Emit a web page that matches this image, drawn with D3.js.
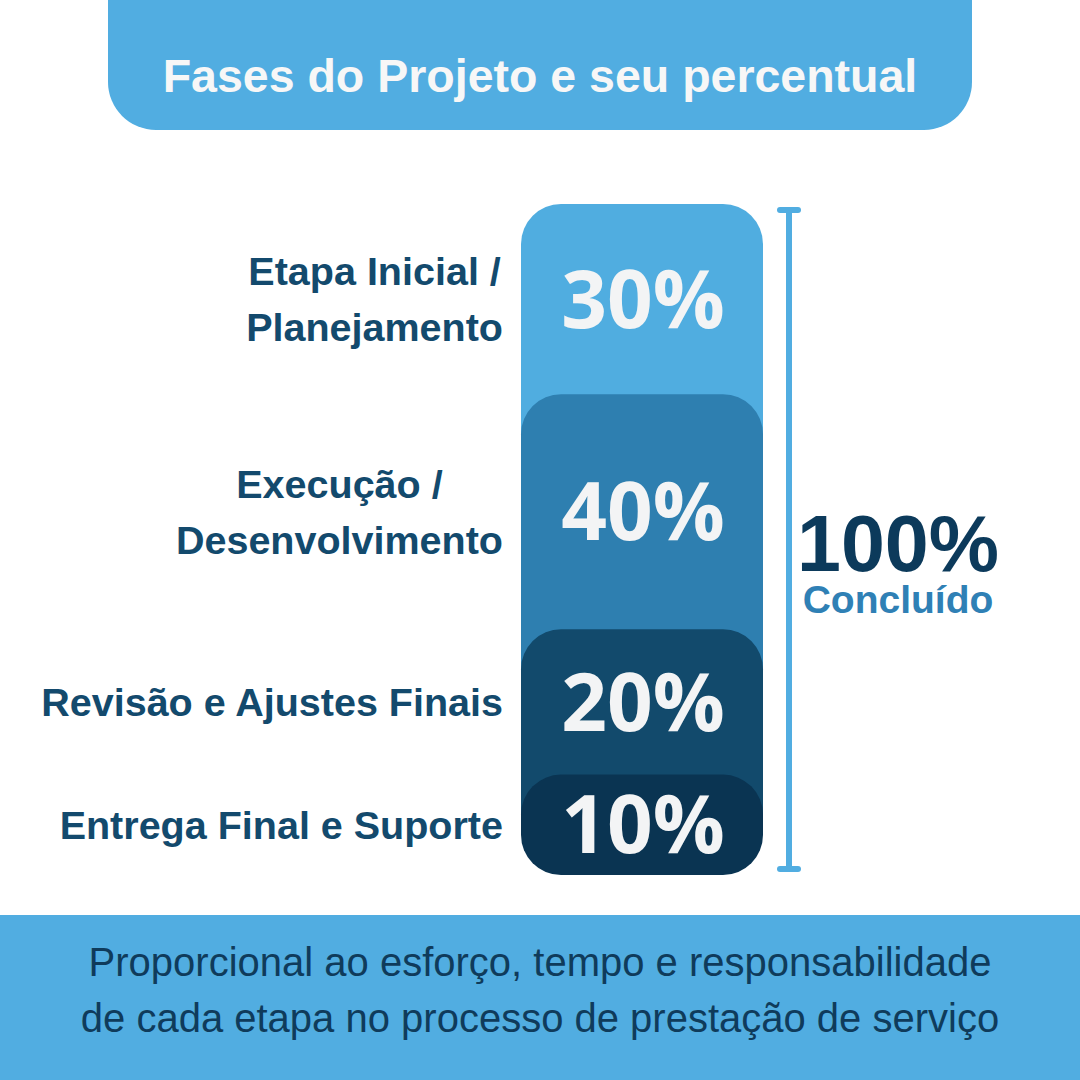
<!DOCTYPE html>
<html>
<head>
<meta charset="utf-8">
<script src="https://cdn.jsdelivr.net/npm/d3@7"></script>
<style>
  html, body { margin: 0; padding: 0; background: #ffffff; }
  svg { display: block; }
</style>
</head>
<body>
<script>
// ---------- DATA ----------
const phaseLabels = [
  ["Etapa Inicial /", "Planejamento"],
  ["Execução /", "Desenvolvimento"],
  ["Revisão e Ajustes Finais"],
  ["Entrega Final e Suporte"]
];
const phaseValues = [30, 40, 20, 10];
const phaseColors = ["#50ade0", "#2e7fb0", "#124a6c", "#0a3452"];
const titleText = "Fases do Projeto e seu percentual";
const totalText = "100%";
const totalCaption = "Concluído";
const footerLines = [
  "Proporcional ao esforço, tempo e responsabilidade",
  "de cada etapa no processo de prestação de serviço"
];

// ---------- LAYOUT ----------
const W = 1080, H = 1080;
const light = "#51ade1";
const svg = d3.select("body").append("svg").attr("width", W).attr("height", H);

// Title band
svg.append("rect").attr("x", 108).attr("y", -60).attr("width", 864).attr("height", 190)
  .attr("rx", 48).attr("fill", light);
svg.append("text").attr("x", 540).attr("y", 92).attr("text-anchor", "middle")
  .attr("font-family", "'Liberation Sans', Arial, sans-serif").attr("font-weight", 700)
  .attr("font-size", 46.5).attr("fill", "#f7f7f7").text(titleText);

// Footer band
svg.append("rect").attr("x", 0).attr("y", 915).attr("width", W).attr("height", H - 915).attr("fill", light);
svg.append("g").selectAll("text").data(footerLines).join("text")
  .attr("x", 540).attr("y", (d, i) => 976 + i * 56).attr("text-anchor", "middle")
  .attr("font-family", "'Liberation Sans', Arial, sans-serif").attr("font-size", 40)
  .attr("fill", "#0f3b5b").text(d => d);

// Stacked bar
const barX0 = 521, barX1 = 763, barTop = 204, barBottom = 875, r = 40;
const minSeg = 55.5; // base height per stage
const propH = (barBottom - barTop) - phaseValues.length * minSeg;
const y = d3.scaleLinear().domain([0, d3.sum(phaseValues)]).range([0, propH]);

let acc = barTop;
const segs = phaseValues.map((v, i) => {
  const h = minSeg + y(v);
  const s = { i, v, top: acc, bottom: acc + h };
  acc += h;
  return s;
});

function segPath(top, bottom, roundBottom) {
  const p = d3.path();
  p.moveTo(barX0, top + r);
  p.arcTo(barX0, top, barX0 + r, top, r);
  p.lineTo(barX1 - r, top);
  p.arcTo(barX1, top, barX1, top + r, r);
  if (roundBottom) {
    p.lineTo(barX1, bottom - r);
    p.arcTo(barX1, bottom, barX1 - r, bottom, r);
    p.lineTo(barX0 + r, bottom);
    p.arcTo(barX0, bottom, barX0, bottom - r, r);
  } else {
    p.lineTo(barX1, bottom);
    p.lineTo(barX0, bottom);
  }
  p.closePath();
  return p.toString();
}

const last = segs.length - 1;
svg.append("g").selectAll("path").data(segs).join("path")
  .attr("d", d => d.i === last ? segPath(d.top, d.bottom, true) : segPath(d.top, d.bottom + r + 2, false))
  .attr("fill", d => phaseColors[d.i]);

// Percent labels inside bar
const pctSize = 80, pctCap = pctSize * 0.714;
svg.append("g").selectAll("text").data(segs).join("text")
  .attr("x", (barX0 + barX1) / 2 + 1)
  .attr("y", d => (d.top + d.bottom) / 2 + pctCap / 2)
  .attr("text-anchor", "middle")
  .attr("font-family", "'Open Sans', sans-serif").attr("font-weight", 700)
  .attr("font-size", pctSize).attr("fill", "#f3f4f5")
  .text(d => d.v + "%");

// Left labels: block right-aligned, lines centered within block
const labSize = 39.5, labCap = labSize * 0.716, lineH = 56, labRight = 503;
segs.forEach(d => {
  const lines = phaseLabels[d.i];
  const g = svg.append("g");
  const cy = (d.top + d.bottom) / 2;
  const texts = g.selectAll("text").data(lines).join("text")
    .attr("font-family", "'Liberation Sans', Arial, sans-serif").attr("font-weight", 700)
    .attr("font-size", labSize).attr("fill", "#134a6d").attr("text-anchor", "middle")
    .attr("y", (t, j) => cy + labCap / 2 + (j - (lines.length - 1) / 2) * lineH)
    .text(t => t);
  let maxW = 0;
  texts.each(function () { maxW = Math.max(maxW, this.getComputedTextLength()); });
  texts.attr("x", labRight - maxW / 2);
});

// Bracket
const bx = 789, bTop = 210, bBot = 869;
svg.append("line").attr("x1", bx).attr("x2", bx).attr("y1", bTop).attr("y2", bBot)
  .attr("stroke", light).attr("stroke-width", 6);
[bTop, bBot].forEach(yy => {
  svg.append("line").attr("x1", bx - 9).attr("x2", bx + 9).attr("y1", yy).attr("y2", yy)
    .attr("stroke", light).attr("stroke-width", 6).attr("stroke-linecap", "round");
});

// Total
svg.append("text").attr("x", 898).attr("y", 571).attr("text-anchor", "middle")
  .attr("font-family", "'Liberation Sans', Arial, sans-serif").attr("font-weight", 700)
  .attr("font-size", 79).attr("fill", "#0c3a5b").text(totalText);
svg.append("text").attr("x", 898).attr("y", 613).attr("text-anchor", "middle")
  .attr("font-family", "'Liberation Sans', Arial, sans-serif").attr("font-weight", 700)
  .attr("font-size", 39).attr("fill", "#2f80b5").text(totalCaption);
</script>
</body>
</html>
